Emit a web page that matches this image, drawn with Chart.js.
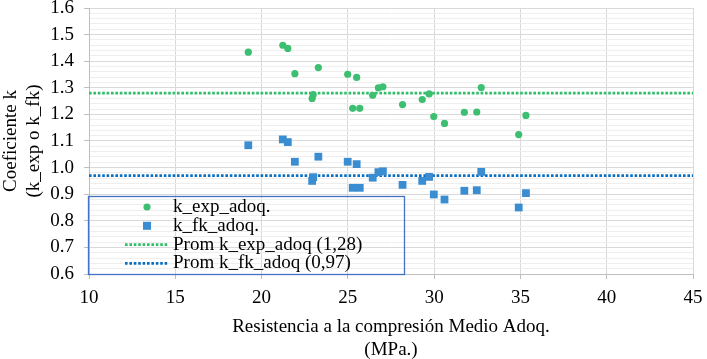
<!DOCTYPE html>
<html>
<head>
<meta charset="utf-8">
<script src="https://cdn.jsdelivr.net/npm/chart.js@4.4.0/dist/chart.umd.min.js"></script>
<style>
  html, body { margin: 0; padding: 0; background: #fff; }
  #wrap { width: 707px; height: 359px; }
</style>
</head>
<body>
<div id="wrap"><canvas id="graficoK"></canvas></div>
<script>
// ====== Datos ======
const resistencia = [19.23, 21.23, 21.52, 21.93, 22.93, 22.99, 23.29, 24.99, 25.28, 25.51, 25.69, 26.44,
                     26.77, 27.03, 28.17, 29.31, 29.71, 29.98, 30.6, 31.75, 32.47, 32.73, 34.9, 35.32];
const kExpAdoq = [1.434, 1.46, 1.448, 1.353, 1.26, 1.274, 1.376, 1.351, 1.223, 1.339, 1.223, 1.272,
                  1.30, 1.304, 1.237, 1.256, 1.277, 1.192, 1.166, 1.208, 1.209, 1.301, 1.124, 1.196];
const kFkAdoq = [1.084, 1.106, 1.096, 1.022, 0.95, 0.964, 1.041, 1.022, 0.924, 1.013, 0.924, 0.962,
                 0.983, 0.986, 0.935, 0.95, 0.965, 0.899, 0.88, 0.913, 0.915, 0.984, 0.85, 0.904];
const promedios = [1.28, 0.97];          // Prom k_exp_adoq, Prom k_fk_adoq
const rangoX = [10, 45];
const etiquetasY = ['0.6', '0.7', '0.8', '0.9', '1.0', '1.1', '1.2', '1.3', '1.4', '1.5', '1.6'];

const verde = '#3dbf72';
const azul = '#3a8dd0';
const verdeLinea = '#2fbf6a';
const azulLinea = '#0a6fc0';
const fuente = '"Liberation Serif", "Times New Roman", serif';

Chart.defaults.font.family = fuente;
Chart.defaults.font.size = 19;
Chart.defaults.color = '#000';

const puntos = (ys) => resistencia.map((x, i) => ({ x: x, y: ys[i] }));
const lineaProm = (v) => rangoX.map(x => ({ x: x, y: v }));

// ====== Leyenda en recuadro ======
const leyendaCaja = {
  id: 'leyendaCaja',
  afterDraw(chart) {
    const { ctx, chartArea } = chart;
    const w = 316, h = 78;
    const x0 = chartArea.left - 1, y0 = chartArea.bottom - h;
    ctx.save();
    ctx.strokeStyle = '#4472c4';
    ctx.lineWidth = 1.3;
    ctx.strokeRect(x0 + 0.5, y0 + 0.5, w, h);
    ctx.font = '19px ' + fuente;
    ctx.textBaseline = 'middle';
    chart.data.datasets.forEach((ds, i) => {
      const y = y0 + 11 + i * 18.8;
      const mx = x0 + 59;
      if (ds.type === 'line') {
        ctx.strokeStyle = ds.borderColor;
        ctx.lineWidth = ds.borderWidth;
        ctx.setLineDash(ds.borderDash);
        ctx.beginPath();
        ctx.moveTo(x0 + 37, y);
        ctx.lineTo(x0 + 80, y);
        ctx.stroke();
        ctx.setLineDash([]);
      } else if (ds.pointStyle === 'rect') {
        ctx.fillStyle = ds.backgroundColor;
        ctx.fillRect(mx - 4, y - 4, 8, 8);
      } else {
        ctx.fillStyle = ds.backgroundColor;
        ctx.beginPath();
        ctx.arc(mx, y, 3.6, 0, Math.PI * 2);
        ctx.fill();
      }
      ctx.fillStyle = '#000';
      ctx.fillText(ds.label, x0 + 85, y);
    });
    ctx.restore();
  }
};

// ====== Gráfico ======
const esMayor = (v) => Math.round(v * 100) % 10 === 0;

const ctx = document.getElementById('graficoK').getContext('2d');
const graficoK = new Chart(ctx, {
  type: 'scatter',
  data: {
    datasets: [{
      label: 'k_exp_adoq.',
      data: puntos(kExpAdoq),
      backgroundColor: verde,
      borderColor: verde,
      pointStyle: 'circle',
      pointRadius: 3.6,
      borderWidth: 0
    }, {
      label: 'k_fk_adoq.',
      data: puntos(kFkAdoq),
      backgroundColor: azul,
      borderColor: azul,
      pointStyle: 'rect',
      pointRadius: 5.5,
      borderWidth: 0
    }, {
      type: 'line',
      label: 'Prom k_exp_adoq (1,28)',
      data: lineaProm(promedios[0]),
      borderColor: verdeLinea,
      borderWidth: 2.6,
      borderDash: [2.6, 1.8],
      pointRadius: 0,
      fill: false
    }, {
      type: 'line',
      label: 'Prom k_fk_adoq (0,97)',
      data: lineaProm(promedios[1]),
      borderColor: azulLinea,
      borderWidth: 2.6,
      borderDash: [2.6, 1.8],
      pointRadius: 0,
      fill: false
    }]
  },
  options: {
    responsive: true,
    maintainAspectRatio: false,
    animation: false,
    layout: { padding: { top: 8, right: 14, left: 0, bottom: 0 } },
    plugins: {
      legend: { display: false },
      tooltip: { enabled: false }
    },
    scales: {
      x: {
        type: 'linear',
        min: rangoX[0],
        max: rangoX[1],
        afterFit: (s) => { s.height = 85; s.paddingLeft = 0; s.paddingRight = 0; },
        ticks: { stepSize: 5, color: '#000', padding: 8, font: { family: fuente, size: 19 } },
        grid: { color: '#d9d9d9', tickColor: '#bfbfbf', tickLength: 5 },
        border: { color: '#bfbfbf' },
        title: {
          display: true,
          text: ['Resistencia a la compresión Medio Adoq.', '(MPa.)'],
          color: '#000',
          padding: { top: 0, bottom: -2 },
          font: { family: fuente, size: 19 }
        }
      },
      y: {
        min: 0.6,
        max: 1.6,
        afterFit: (s) => { s.width = 89; s.paddingTop = 0; s.paddingBottom = 0; },
        ticks: {
          stepSize: 0.02,
          autoSkip: false,
          color: '#000',
          padding: 10,
          font: { family: fuente, size: 19 },
          callback: (v) => esMayor(v) ? etiquetasY[Math.round((v - 0.6) * 10)] : ''
        },
        grid: {
          color: (c) => esMayor(c.tick.value) ? '#d9d9d9' : '#eeeeee',
          tickColor: (c) => esMayor(c.tick.value) ? '#bfbfbf' : 'rgba(0,0,0,0)',
          tickLength: 5
        },
        border: { color: '#bfbfbf' },
        title: {
          display: true,
          text: ['Coeficiente k', '(k_exp o k_fk)'],
          color: '#000',
          padding: { top: 0, bottom: 0 },
          font: { family: fuente, size: 19 }
        }
      }
    }
  },
  plugins: [leyendaCaja]
});
</script>
</body>
</html>
